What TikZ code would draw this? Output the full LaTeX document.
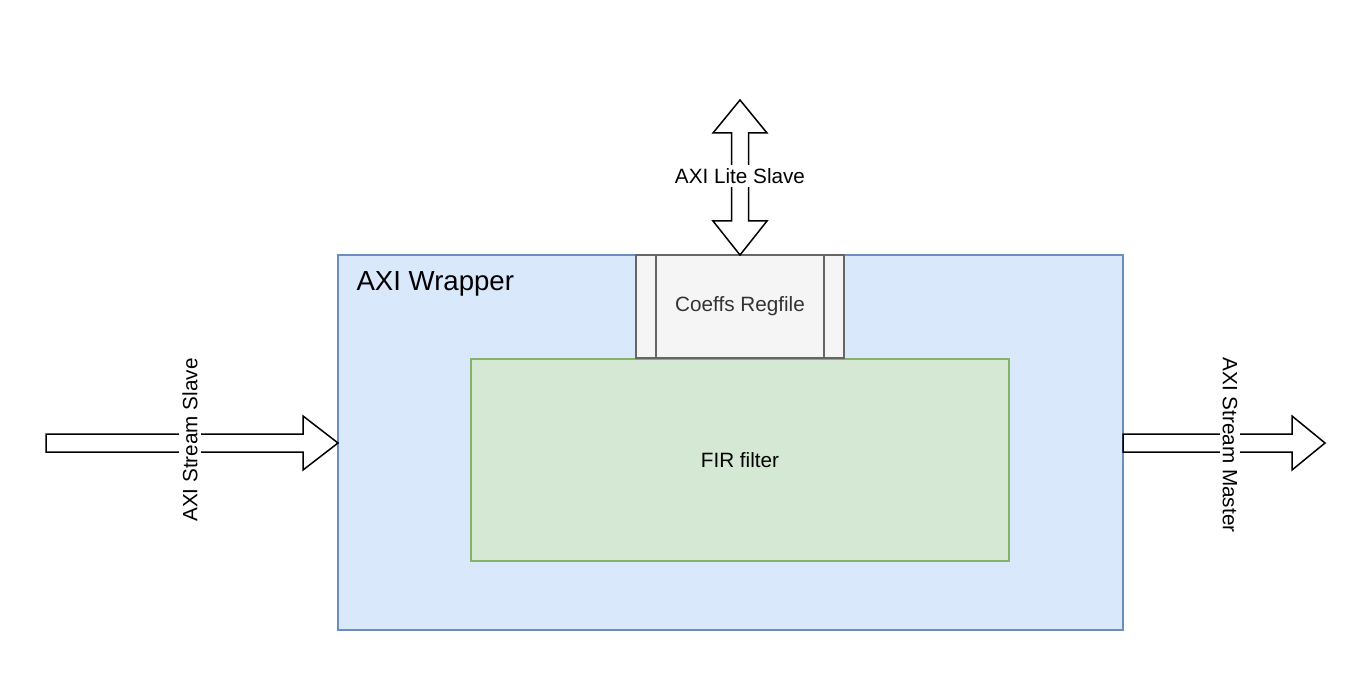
\documentclass[tikz,border=0pt]{standalone}
\usepackage{fontspec}
\setmainfont{Liberation Sans}
\definecolor{wrapfill}{HTML}{DAE8FC}
\definecolor{wrapline}{HTML}{6C8EBF}
\definecolor{regfill}{HTML}{F5F5F5}
\definecolor{regline}{HTML}{666666}
\definecolor{regtext}{HTML}{333333}
\definecolor{firfill}{HTML}{D5E8D4}
\definecolor{firline}{HTML}{82B366}
\begin{document}
\begin{tikzpicture}[x=1pt,y=-1pt,
  box/.style={draw,line width=1.3pt,inner sep=0pt,outer sep=0pt},
  lbl/.style={fill=white,inner sep=3pt,font=\fontsize{20.7}{24}\selectfont},
  bigarrow/.style={draw=black,fill=white,line width=1.5pt,line join=miter}]
\useasboundingbox (0,0) rectangle (1347,687);
% AXI wrapper
\node[box,draw=wrapline,fill=wrapfill,minimum width=785pt,minimum height=375pt] (wrap) at (730.5,442.5) {};
\node[anchor=west,font=\fontsize{27.6}{32}\selectfont] (wraplbl) at (353,284) {AXI Wrapper};
% FIR filter
\node[box,draw=firline,fill=firfill,minimum width=538pt,minimum height=202pt,font=\fontsize{20.7}{24}\selectfont] (fir) at (740,460) {FIR filter};
% Regfile
\node[box,draw=regline,fill=regfill,minimum width=208pt,minimum height=103pt,text=regtext,font=\fontsize{20.7}{24}\selectfont] (reg) at (740,306.5) {Coeffs Regfile};
\draw[regline,line width=1.3pt] ([xshift=20pt]reg.north west) -- ([xshift=20pt]reg.south west);
\draw[regline,line width=1.3pt] ([xshift=-20pt]reg.north east) -- ([xshift=-20pt]reg.south east);
% left arrow
\draw[bigarrow] (46,434) -- (303,434) -- (303,416) -- (wrap.west |- 0,443) -- (303,470) -- (303,452) -- (46,452) -- cycle;
\node[lbl,rotate=90] (slave) at (190,440) {AXI Stream Slave};
% right arrow
\draw[bigarrow] (wrap.east |- 0,434) -- (1292,434) -- (1292,416) -- (1325,443) -- (1292,470) -- (1292,452) -- (wrap.east |- 0,452) -- cycle;
\node[lbl,rotate=-90] (master) at (1230,445) {AXI Stream Master};
% top double arrow
\draw[bigarrow] (740,100) -- (767,133) -- (748.5,133) -- (748.5,221) -- (767,221) -- (reg.north) -- (713,221) -- (731.5,221) -- (731.5,133) -- (713,133) -- cycle;
\node[lbl] (lite) at (740,176) {AXI Lite Slave};
\end{tikzpicture}
\end{document}
